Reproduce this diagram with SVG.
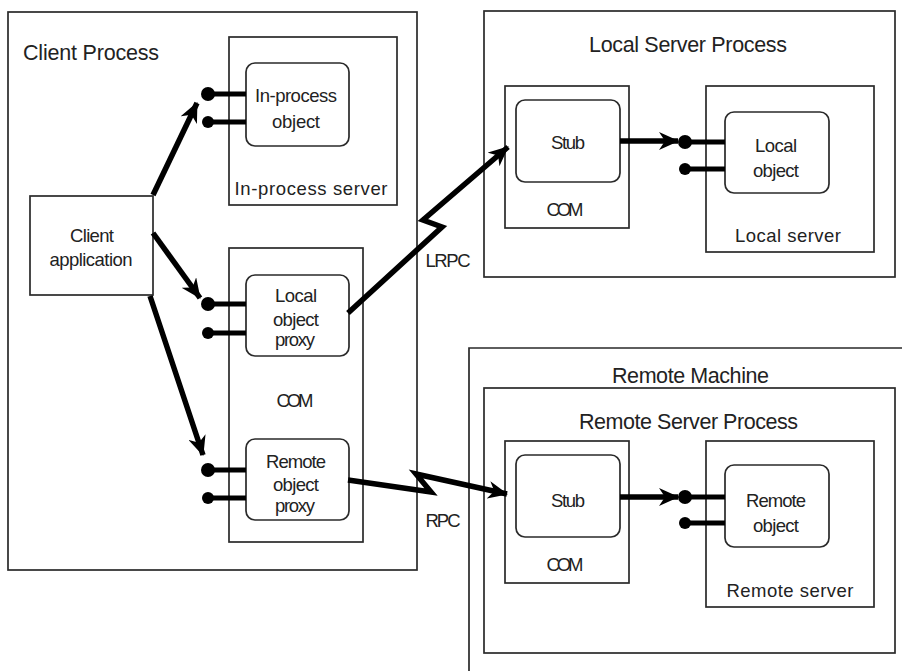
<svg xmlns="http://www.w3.org/2000/svg" width="902" height="671" viewBox="0 0 902 671">
<defs>
<style>
.box{fill:none;stroke:#2a2a2a;stroke-width:1.7}
.obj{fill:#fff;stroke:#2a2a2a;stroke-width:1.7}
.t{font-family:"Liberation Sans",Arial,sans-serif;font-size:18.5px;fill:#222;text-anchor:middle}
.title{font-family:"Liberation Sans",Arial,sans-serif;font-size:21.5px;fill:#222}
.conn{fill:none;stroke:#000;stroke-width:5.5;stroke-linejoin:miter}
.lol{stroke:#000;stroke-width:5}
.dot{fill:#000}
</style>
<marker id="ah" markerUnits="userSpaceOnUse" markerWidth="22" markerHeight="18" refX="19" refY="9" orient="auto">
<path d="M0,0 L20,9 L0,18 L6,9 z" fill="#000"/>
</marker>
</defs>

<g id="client-process">
<rect class="box" x="8" y="12" width="409" height="558"/>
<text class="title" x="23" y="60" textLength="136">Client Process</text>
</g>

<g id="in-process-server">
<rect class="box" x="229" y="37" width="168" height="168"/>
<text class="t" x="311" y="195" textLength="153">In-process server</text>
</g>
<g id="in-process-object">
<rect class="obj" x="246" y="63" width="103" height="83" rx="9"/>
<text class="t" x="296" y="102" textLength="82">In-process</text>
<text class="t" x="296" y="128" textLength="48">object</text>
<line class="lol" x1="208" y1="94" x2="246" y2="94"/>
<line class="lol" x1="208" y1="122" x2="246" y2="122"/>
<circle class="dot" cx="208" cy="94" r="7"/>
<circle class="dot" cx="208" cy="122" r="6"/>
</g>

<g id="client-application">
<rect class="box" x="30" y="196" width="123" height="99"/>
<text class="t" x="92" y="242" textLength="44">Client</text>
<text class="t" x="91" y="266" textLength="83">application</text>
</g>

<g id="client-com">
<rect class="box" x="229" y="248" width="134" height="294"/>
<text class="t" x="295" y="407" textLength="37">COM</text>
</g>
<g id="local-object-proxy">
<rect class="obj" x="246" y="275" width="103" height="81" rx="9"/>
<text class="t" x="296" y="302" textLength="42">Local</text>
<text class="t" x="296" y="326" textLength="46">object</text>
<text class="t" x="295" y="346" textLength="40">proxy</text>
<line class="lol" x1="208" y1="304" x2="246" y2="304"/>
<line class="lol" x1="208" y1="333" x2="246" y2="333"/>
<circle class="dot" cx="208" cy="304" r="7"/>
<circle class="dot" cx="208" cy="333" r="6"/>
</g>
<g id="remote-object-proxy">
<rect class="obj" x="246" y="439" width="103" height="81" rx="9"/>
<text class="t" x="296" y="468" textLength="60">Remote</text>
<text class="t" x="296" y="491" textLength="46">object</text>
<text class="t" x="295" y="512" textLength="40">proxy</text>
<line class="lol" x1="208" y1="470" x2="246" y2="470"/>
<line class="lol" x1="208" y1="498" x2="246" y2="498"/>
<circle class="dot" cx="208" cy="470" r="7"/>
<circle class="dot" cx="208" cy="498" r="6"/>
</g>

<g id="local-server-process">
<rect class="box" x="484" y="11" width="411" height="266"/>
<text class="title" x="589" y="52" textLength="198">Local Server Process</text>
</g>
<g id="local-com">
<rect class="box" x="505" y="86" width="124" height="142"/>
<text class="t" x="565" y="216" textLength="37">COM</text>
</g>
<g id="local-stub">
<rect class="obj" x="516" y="100" width="104" height="82" rx="9"/>
<text class="t" x="568" y="149" textLength="34">Stub</text>
</g>
<g id="local-server">
<rect class="box" x="706" y="86" width="168" height="166"/>
<text class="t" x="788" y="242" textLength="106">Local server</text>
</g>
<g id="local-object">
<rect class="obj" x="725" y="112" width="104" height="81" rx="9"/>
<text class="t" x="776" y="152" textLength="42">Local</text>
<text class="t" x="776" y="177" textLength="46">object</text>
<line class="lol" x1="685" y1="142" x2="725" y2="142"/>
<line class="lol" x1="685" y1="169" x2="725" y2="169"/>
<circle class="dot" cx="685" cy="142" r="7"/>
<circle class="dot" cx="685" cy="169" r="6"/>
</g>

<g id="remote-machine">
<path class="box" d="M469,680 V348 H910"/>
<text class="title" x="612" y="383" textLength="157">Remote Machine</text>
</g>
<g id="remote-server-process">
<rect class="box" x="484" y="388" width="411" height="265"/>
<text class="title" x="579" y="429" textLength="219">Remote Server Process</text>
</g>
<g id="remote-com">
<rect class="box" x="505" y="441" width="124" height="142"/>
<text class="t" x="565" y="571" textLength="37">COM</text>
</g>
<g id="remote-stub">
<rect class="obj" x="516" y="455" width="104" height="82" rx="9"/>
<text class="t" x="568" y="507" textLength="34">Stub</text>
</g>
<g id="remote-server">
<rect class="box" x="706" y="441" width="168" height="166"/>
<text class="t" x="790" y="597" textLength="127">Remote server</text>
</g>
<g id="remote-object">
<rect class="obj" x="725" y="465" width="104" height="82" rx="9"/>
<text class="t" x="776" y="507" textLength="60">Remote</text>
<text class="t" x="776" y="532" textLength="46">object</text>
<line class="lol" x1="685" y1="497" x2="725" y2="497"/>
<line class="lol" x1="685" y1="523" x2="725" y2="523"/>
<circle class="dot" cx="685" cy="497" r="7"/>
<circle class="dot" cx="685" cy="523" r="6"/>
</g>

<g id="connectors">
<line class="conn" x1="153" y1="195" x2="197" y2="103" marker-end="url(#ah)"/>
<line class="conn" x1="153" y1="233" x2="200" y2="298" marker-end="url(#ah)"/>
<line class="conn" x1="150" y1="296" x2="203" y2="455" marker-end="url(#ah)"/>
<polyline class="conn" points="348,313 442,227 423,220 508,147" marker-end="url(#ah)"/>
<polyline class="conn" points="348,480 431,492 416,474 507,494" marker-end="url(#ah)"/>
<line class="conn" x1="620" y1="141" x2="678" y2="141" marker-end="url(#ah)"/>
<line class="conn" x1="620" y1="497" x2="678" y2="497" marker-end="url(#ah)"/>
<text class="t" x="448" y="267" textLength="45">LRPC</text>
<text class="t" x="443" y="527" textLength="35">RPC</text>
</g>
</svg>
